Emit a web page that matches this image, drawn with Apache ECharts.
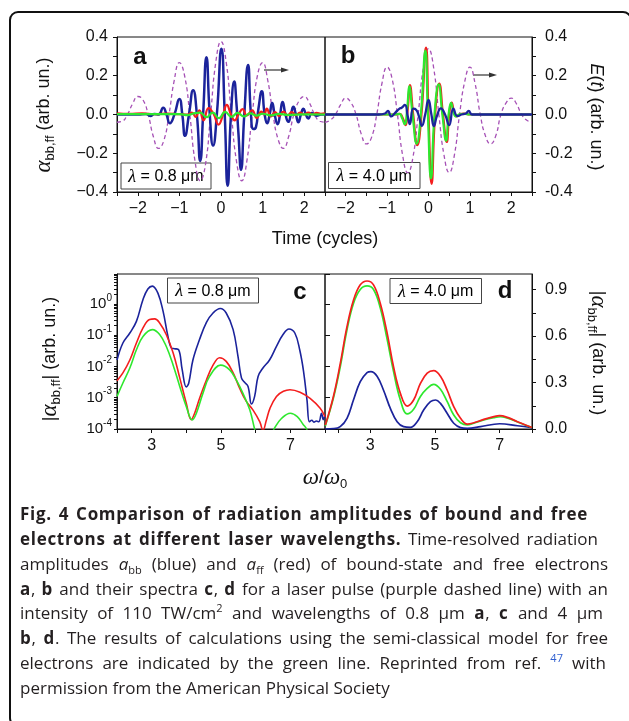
<!DOCTYPE html>
<html><head><meta charset="utf-8">
<script src="https://cdn.jsdelivr.net/npm/echarts/dist/echarts.min.js"></script>
<style>
html,body{margin:0;padding:0;background:#fff;}
#wrap{position:relative;width:629px;height:721px;overflow:hidden;}
#chart{position:absolute;left:0;top:0;width:629px;height:721px;}
#cap{position:absolute;left:20px;top:502px;font-family:'Open Sans','Noto Sans';font-size:17px;line-height:24.86px;color:#231f20;}
#cap div{text-align:justify;text-align-last:justify;white-space:nowrap;}
#cap div.last{text-align:left;text-align-last:left;}
#cap b{font-family:'Open Sans','Noto Sans';font-weight:700;letter-spacing:0.7px;}
#cap sub,#cap sup{font-size:11px;line-height:0;}
</style></head>
<body><div id="wrap"><div id="chart"></div>
<div id="cap">
<div style="width:568px"><b>Fig. 4 Comparison of radiation amplitudes of bound and free</b></div>
<div style="width:578px"><b>electrons at different laser wavelengths.</b> Time-resolved radiation</div>
<div style="width:588px">amplitudes <i>a</i><sub>bb</sub> (blue) and <i>a</i><sub>ff</sub> (red) of bound-state and free electrons</div>
<div style="width:588px"><b>a</b>, <b>b</b> and their spectra <b>c</b>, <b>d</b> for a laser pulse (purple dashed line) with an</div>
<div style="width:583px">intensity of 110 TW/cm<sup>2</sup> and wavelengths of 0.8 μm <b>a</b>, <b>c</b> and 4 μm</div>
<div style="width:588px"><b>b</b>, <b>d</b>. The results of calculations using the semi-classical model for free</div>
<div style="width:586px">electrons are indicated by the green line. Reprinted from ref. <sup style="color:#2f5fd0">47</sup> with</div>
<div class="last">permission from the American Physical Society</div>
</div></div>
<script>
// ---- Panel a/b time axis (cycles) for laser field E(t)
const tField = [-2.5,-2.375,-2.25,-2.125,-2,-1.875,-1.75,-1.625,-1.5,-1.375,-1.25,-1.125,-1,-0.875,-0.75,-0.625,-0.5,-0.375,-0.25,-0.125,0,0.125,0.25,0.375,0.5,0.625,0.75,0.875,1,1.125,1.25,1.375,1.5,1.625,1.75,1.875,2,2.125,2.25,2.375,2.5];
const fieldA = [-0.04,-0.035,0,0.055,0.093,0.075,0,-0.115,-0.175,-0.135,0,0.175,0.268,0.2,0,-0.24,-0.342,-0.26,0,0.27,0.377,0.27,0,-0.245,-0.342,-0.235,0,0.2,0.268,0.175,0,-0.13,-0.175,-0.115,0,0.07,0.093,0.06,0,-0.035,-0.04];
const fieldB = [-0.04,-0.03,0,0.05,0.085,0.062,0,-0.1,-0.152,-0.118,0,0.16,0.245,0.18,0,-0.21,-0.3,-0.22,0,0.24,0.34,0.24,0,-0.21,-0.3,-0.21,0,0.17,0.245,0.16,0,-0.11,-0.152,-0.11,0,0.06,0.085,0.055,0,-0.03,-0.04];

// ---- Panel a (0.8 um): [t, amplitude]
const aBlue = [[-2.5,0],[-2.0,0],[-1.8,0.003],[-1.7,-0.008],[-1.6,0.002],[-1.5,0],[-1.39,0.035],[-1.31,0],[-1.23,-0.045],[-1.12,0],[-1.0,0.08],[-0.93,0],[-0.865,-0.11],[-0.77,0],[-0.67,0.125],[-0.58,0],[-0.5,-0.24],[-0.43,0],[-0.35,0.295],[-0.27,0],[-0.19,-0.16],[-0.1,0],[0.01,0.34],[0.09,0],[0.16,-0.368],[0.24,0],[0.32,0.17],[0.37,0.06],[0.42,-0.1],[0.48,-0.285],[0.56,0],[0.65,0.255],[0.72,0],[0.78,-0.075],[0.84,-0.065],[0.9,0.03],[0.98,0.12],[1.05,0],[1.11,-0.045],[1.17,0],[1.23,0.06],[1.29,0],[1.36,-0.05],[1.42,0],[1.48,0.065],[1.55,0],[1.62,-0.038],[1.68,0],[1.74,0.04],[1.8,0],[1.86,-0.04],[1.92,0],[1.98,0.03],[2.04,0],[2.1,-0.02],[2.18,0.008],[2.3,-0.006],[2.4,0],[2.5,0]];
const aRed = [[-2.5,0.006],[-2.2,0.003],[-1.9,0.006],[-1.6,0.002],[-1.3,0.005],[-1.0,0.002],[-0.8,0],[-0.7,0.01],[-0.61,-0.012],[-0.52,0.022],[-0.42,-0.03],[-0.3,0.033],[-0.18,0.004],[-0.06,-0.052],[0.05,0],[0.14,0.05],[0.24,0],[0.33,-0.03],[0.42,0],[0.52,0.028],[0.62,-0.005],[0.75,0.022],[0.86,-0.018],[0.97,0.015],[1.04,0],[1.1,0.03],[1.2,-0.01],[1.3,0.012],[1.4,-0.008],[1.5,0.015],[1.6,-0.005],[1.7,0.012],[1.8,-0.004],[1.9,0.01],[2.0,0],[2.1,0.01],[2.2,0],[2.3,0.008],[2.4,0.004],[2.5,0.006]];
const aGreen = [[-2.5,0.002],[-1.0,0.002],[-0.8,-0.003],[-0.65,0.006],[-0.5,0.01],[-0.35,-0.014],[-0.2,0.01],[-0.05,-0.019],[0.1,0.014],[0.25,-0.012],[0.4,0.008],[0.55,-0.01],[0.7,0.006],[0.85,-0.006],[1.0,0.004],[1.2,-0.004],[1.4,0.003],[1.6,-0.002],[2.0,0.001],[2.5,0]];

// ---- Panel b (4.0 um): [t, amplitude]
const bBlue = [[-2.5,0],[-1.2,0],[-1.05,0.005],[-0.98,0.018],[-0.9,-0.01],[-0.8,0.01],[-0.7,0.03],[-0.65,0.035],[-0.57,0.05],[-0.5,-0.01],[-0.45,-0.05],[-0.37,0.03],[-0.3,0.025],[-0.23,-0.01],[-0.16,-0.058],[-0.08,0],[0,0.075],[0.07,0],[0.13,-0.06],[0.2,-0.01],[0.3,0.032],[0.4,0],[0.5,-0.055],[0.6,0.03],[0.7,-0.008],[0.8,0],[0.9,0.005],[0.97,0.018],[1.05,0],[1.2,0],[2.5,0]];
const bRed = [[-2.5,0],[-0.8,0],[-0.7,0.003],[-0.62,-0.02],[-0.56,-0.055],[-0.5,0.03],[-0.45,0.152],[-0.37,0],[-0.27,-0.158],[-0.17,0],[-0.06,0.345],[0,0],[0.075,-0.358],[0.16,0],[0.26,0.16],[0.35,0],[0.44,-0.142],[0.5,0],[0.56,0.062],[0.62,0.01],[0.68,-0.01],[0.75,0],[0.85,0.005],[1.0,0],[2.5,0]];
const bGreen = [[-2.5,0],[-0.8,0],[-0.7,0.003],[-0.635,-0.02],[-0.575,-0.05],[-0.515,0.03],[-0.465,0.145],[-0.385,0],[-0.285,-0.15],[-0.185,0],[-0.075,0.33],[-0.015,0],[0.06,-0.33],[0.145,0],[0.245,0.155],[0.335,0],[0.425,-0.135],[0.485,0],[0.545,0.06],[0.605,0.01],[0.665,-0.01],[0.735,0],[0.85,0.004],[1.0,0],[2.5,0]];

// ---- Panel c (0.8 um spectra, log): [omega/omega0, |alpha|]
const cBlue = [[2.0,1.6e-2],[2.17,5.6e-2],[2.37,0.117],[2.56,0.275],[2.75,1.38],[2.89,3.0],[3.02,3.7],[3.18,2.2],[3.33,0.575],[3.47,0.091],[3.57,0.039],[3.66,0.037],[3.78,0.034],[3.88,7.9e-3],[4.0,2.2e-3],[4.07,2.95e-3],[4.19,1.6e-2],[4.38,0.072],[4.58,0.257],[4.77,0.51],[4.98,0.71],[5.15,0.51],[5.35,0.15],[5.49,0.021],[5.59,4.3e-3],[5.68,3.1e-3],[5.78,2.3e-3],[5.88,6.3e-4],[5.97,1.1e-3],[6.07,4.8e-3],[6.21,8.9e-3],[6.4,1.6e-2],[6.6,0.044],[6.79,0.105],[6.96,0.158],[7.13,0.117],[7.27,0.034],[7.38,7.1e-3],[7.48,8.5e-4],[7.55,1.7e-4],[7.62,1.9e-4],[7.68,1.66e-4],[7.75,1.8e-4],[7.82,1.7e-4],[7.9,3.2e-4],[7.95,2e-4],[8.0,2.8e-4]];
const cRed = [[2.0,3.5e-3],[2.17,6.2e-3],[2.37,1.6e-2],[2.56,5.6e-2],[2.75,0.17],[2.94,0.316],[3.09,0.33],[3.23,0.245],[3.42,0.105],[3.62,0.027],[3.81,4.3e-3],[4.0,6.6e-4],[4.14,2.0e-4],[4.24,3.2e-4],[4.38,9.5e-4],[4.58,3.7e-3],[4.77,1.1e-2],[4.96,1.9e-2],[5.15,1.45e-2],[5.35,6.2e-3],[5.54,2.0e-3],[5.73,7.6e-4],[5.92,4.1e-4],[6.12,1.7e-4],[6.21,9e-5],[6.31,1.95e-4],[6.41,4.5e-4],[6.6,1.1e-3],[6.8,1.6e-3],[6.99,1.8e-3],[7.28,1.5e-3],[7.57,9.5e-4],[7.86,4.6e-4],[8.0,2.5e-4]];
const cGreen = [[2.0,1.1e-3],[2.17,2.95e-3],[2.37,8.9e-3],[2.56,0.034],[2.75,0.091],[3.02,0.15],[3.23,0.105],[3.42,0.044],[3.62,0.011],[3.81,2.3e-3],[4.0,5.2e-4],[4.17,1.95e-4],[4.29,3.2e-4],[4.48,1.4e-3],[4.67,4.8e-3],[4.99,1.1e-2],[5.25,7.8e-3],[5.44,3.7e-3],[5.63,1.4e-3],[5.83,4.1e-4],[5.97,1e-4],[6.1,3e-5],[6.4,5e-5],[6.55,1.1e-4],[6.75,2.2e-4],[7.0,3.2e-4],[7.2,2.5e-4],[7.37,1.4e-4],[7.47,1e-4],[7.6,4e-5],[8.0,2.5e-5]];

// ---- Panel d (4.0 um spectra, linear): [omega/omega0, |alpha|]
const dRed = [[1.61,0.026],[1.86,0.21],[2.07,0.42],[2.28,0.66],[2.48,0.83],[2.69,0.93],[2.9,0.955],[3.1,0.93],[3.31,0.81],[3.52,0.62],[3.72,0.4],[3.93,0.23],[4.14,0.148],[4.34,0.187],[4.55,0.294],[4.76,0.36],[4.96,0.376],[5.17,0.34],[5.38,0.25],[5.58,0.144],[5.79,0.069],[6.0,0.032],[6.2,0.04],[6.51,0.062],[6.82,0.08],[7.0,0.086],[7.24,0.075],[7.55,0.047],[7.86,0.021],[8.0,0.01]];
const dGreen = [[1.61,0.02],[1.86,0.2],[2.07,0.4],[2.28,0.64],[2.48,0.81],[2.69,0.9],[2.9,0.923],[3.1,0.9],[3.31,0.78],[3.52,0.58],[3.72,0.37],[3.93,0.187],[4.14,0.097],[4.34,0.127],[4.55,0.21],[4.76,0.262],[4.96,0.288],[5.17,0.256],[5.38,0.176],[5.58,0.09],[5.79,0.04],[6.0,0.026],[6.2,0.037],[6.51,0.058],[6.82,0.073],[7.03,0.079],[7.34,0.064],[7.65,0.037],[8.0,0.01]];
const dBlue = [[1.61,0],[1.86,0.002],[2.07,0.015],[2.28,0.069],[2.48,0.187],[2.69,0.305],[2.9,0.363],[3.02,0.37],[3.21,0.34],[3.41,0.25],[3.62,0.133],[3.83,0.047],[4.03,0.015],[4.24,0.01],[4.45,0.047],[4.65,0.122],[4.86,0.176],[5.02,0.187],[5.17,0.165],[5.38,0.1],[5.58,0.037],[5.79,0.009],[6.0,0.004],[6.41,0.015],[7.0,0.034],[7.55,0.021],[8.0,0.009]];

// ---- tick positions / labels
const dXTicks = [2,3,4,5,6,7,8];
const dXLabels = [3,5,7];
const dYTicks = [0,0.15,0.3,0.45,0.6,0.75,0.9];
const dYLabels = [0,0.3,0.6,0.9];
const cYMinorTicks = [1e-4,2e-4,3e-4,4e-4,5e-4,6e-4,7e-4,8e-4,9e-4,1e-3,2e-3,3e-3,4e-3,5e-3,6e-3,7e-3,8e-3,9e-3,1e-2,2e-2,3e-2,4e-2,5e-2,6e-2,7e-2,8e-2,9e-2,0.1,0.2,0.3,0.4,0.5,0.6,0.7,0.8,0.9,1,2,3,4,5,6,7,8,9];

const BLUE='#1b239b', RED='#f41e1e', GREEN='#2ee82e', PURPLE='#a651b6', INK='#111';
const FONT='"Liberation Sans", Arial, sans-serif';
const pairs = (xs, ys) => xs.map((x,i)=>[x, ys[i]]);

const chart = echarts.init(document.getElementById('chart'), null, {renderer:'canvas'});

const axLine = {show:true, onZero:false, lineStyle:{color:INK, width:1}};
const lbl = {color:INK, fontSize:16, fontFamily:FONT};
const grids = [
  {left:117, top:37, width:208, height:155},
  {left:325, top:37, width:207, height:155},
  {left:117, top:274, width:208, height:155},
  {left:325, top:274, width:207, height:155}
].map(g=>Object.assign(g,{show:true, borderColor:INK, borderWidth:1, backgroundColor:'transparent'}));

const timeX = (gi) => ({type:'value', gridIndex:gi, min:-2.5, max:2.5, interval:0.5,
  axisLine:axLine, splitLine:{show:false},
  axisTick:{show:true, length:4, lineStyle:{color:INK}},
  axisLabel:Object.assign({}, lbl, {margin:9, formatter:v=> Number.isInteger(v) ? (v<0 ? '\u2212'+(-v) : String(v)) : ''})});

const sup = {fontSize:10, fontFamily:FONT, color:INK, lineHeight:10, verticalAlign:'top'};

const option = {
  animation:false,
  backgroundColor:'#fff',
  grid:grids,
  xAxis:[
    timeX(0), timeX(1),
    {type:'value', gridIndex:2, min:2, max:8, interval:1, axisLine:axLine, splitLine:{show:false},
      axisTick:{length:4, lineStyle:{color:INK}},
      axisLabel:Object.assign({}, lbl, {margin:9, formatter:v=> (v%2===1) ? String(v) : ''})},
    {type:'value', gridIndex:3, min:1.6, max:8, axisLine:axLine, splitLine:{show:false},
      axisTick:{length:4, lineStyle:{color:INK}, customValues:dXTicks},
      axisLabel:Object.assign({}, lbl, {margin:9, customValues:dXLabels, formatter:v=>String(v)})}
  ],
  yAxis:[
    {type:'value', gridIndex:0, min:-0.4, max:0.4, interval:0.2, axisLine:axLine, splitLine:{show:false},
      axisTick:{length:4, lineStyle:{color:INK}}, minorTick:{show:true, splitNumber:2, length:4, lineStyle:{color:INK}},
      axisLabel:Object.assign({}, lbl, {margin:9, formatter:v=> v<0 ? '\u2212'+(-v).toFixed(1) : v.toFixed(1)})},
    {type:'value', gridIndex:1, position:'right', min:-0.4, max:0.4, interval:0.2, axisLine:axLine, splitLine:{show:false},
      axisTick:{length:4, lineStyle:{color:INK}}, minorTick:{show:true, splitNumber:2, length:4, lineStyle:{color:INK}},
      axisLabel:Object.assign({}, lbl, {margin:13, formatter:v=> v.toFixed(1)})},
    {type:'log', gridIndex:2, logBase:10, min:1e-4, max:9, axisLine:axLine, splitLine:{show:false},
      axisTick:{length:3, lineStyle:{color:INK}, customValues:cYMinorTicks},
      axisLabel:{margin:5, color:INK, fontFamily:FONT,
        formatter:v=>{const l=Math.log10(v), e=Math.round(l); if(Math.abs(l-e)>1e-6) return ''; return '{b|10}{p|'+e+'}';},
        rich:{b:{fontSize:15, fontFamily:FONT, color:INK, lineHeight:22}, p:sup}}},
    {type:'value', gridIndex:3, position:'right', min:0, max:1.0, axisLine:axLine, splitLine:{show:false},
      axisTick:{length:4, lineStyle:{color:INK}, customValues:dYTicks},
      axisLabel:Object.assign({}, lbl, {margin:13, customValues:dYLabels, formatter:v=>v.toFixed(1)})},
    {type:'log', gridIndex:2, logBase:10, min:1e-4, max:9, axisLine:{show:false, onZero:false}, splitLine:{show:false},
      axisTick:{length:5, lineStyle:{color:INK}}, axisLabel:{show:false}}
  ],
  series:[
    {type:'line', xAxisIndex:0, yAxisIndex:0, data:pairs(tField, fieldA), smooth:0.5, symbol:'none', lineStyle:{color:PURPLE, width:1.3, type:[4,3]}},
    {type:'line', xAxisIndex:0, yAxisIndex:0, data:aBlue, smooth:0.55, symbol:'none', lineStyle:{color:BLUE, width:2.5}},
    {type:'line', xAxisIndex:0, yAxisIndex:0, data:aRed, smooth:0.5, symbol:'none', lineStyle:{color:RED, width:2.2}},
    {type:'line', xAxisIndex:0, yAxisIndex:0, data:aGreen, smooth:0.5, symbol:'none', lineStyle:{color:GREEN, width:2.2}},

    {type:'line', xAxisIndex:1, yAxisIndex:1, data:pairs(tField, fieldB), smooth:0.5, symbol:'none', lineStyle:{color:PURPLE, width:1.3, type:[4,3]}},
    {type:'line', xAxisIndex:1, yAxisIndex:1, data:bRed, smooth:0.5, symbol:'none', lineStyle:{color:RED, width:2.2}},
    {type:'line', xAxisIndex:1, yAxisIndex:1, data:bGreen, smooth:0.5, symbol:'none', lineStyle:{color:GREEN, width:2.2}},
    {type:'line', xAxisIndex:1, yAxisIndex:1, data:bBlue, smooth:0.5, symbol:'none', lineStyle:{color:BLUE, width:2.3}},

    {type:'line', xAxisIndex:2, yAxisIndex:2, data:cBlue, smooth:0.4, symbol:'none', lineStyle:{color:BLUE, width:1.6}},
    {type:'line', xAxisIndex:2, yAxisIndex:2, data:cRed, smooth:0.4, symbol:'none', lineStyle:{color:RED, width:1.6}},
    {type:'line', xAxisIndex:2, yAxisIndex:2, data:cGreen, smooth:0.4, symbol:'none', lineStyle:{color:GREEN, width:1.6}},

    {type:'line', xAxisIndex:3, yAxisIndex:3, data:dBlue, smooth:0.4, symbol:'none', lineStyle:{color:BLUE, width:1.7}},
    {type:'line', xAxisIndex:3, yAxisIndex:3, data:dGreen, smooth:0.4, symbol:'none', lineStyle:{color:GREEN, width:1.7}},
    {type:'line', xAxisIndex:3, yAxisIndex:3, data:dRed, smooth:0.4, symbol:'none', lineStyle:{color:RED, width:1.7}}
  ],
  graphic:[]
};

// ---- annotations
const serif = '"Liberation Serif", "DejaVu Serif", serif';
function txt(x, y, text, rich, opts){
  return Object.assign({type:'text', x:x, y:y, z:100, silent:true,
    style:{text:text, fill:INK, font:'18px '+FONT, align:'center', verticalAlign:'middle', rich:rich||{}}}, opts||{});
}
const yRich = {
  g:{fontFamily:serif, fontStyle:'italic', fontSize:23, lineHeight:26, color:INK},
  s:{fontFamily:FONT, fontSize:13, lineHeight:13, verticalAlign:'bottom', color:INK},
  n:{fontFamily:FONT, fontSize:18, lineHeight:26, color:INK},
  i:{fontFamily:FONT, fontStyle:'italic', fontSize:18, lineHeight:26, color:INK}
};
function box(x, y, w, h, label){
  return {type:'group', z:90, silent:true, children:[
    {type:'rect', shape:{x:x, y:y, width:w, height:h}, style:{fill:'#fff', stroke:'#444', lineWidth:1}},
    {type:'text', x:x+w/2, y:y+h/2+1, style:{text:'{l|\u03bb}{n| = '+label+' \u03bcm}', align:'center', verticalAlign:'middle',
      rich:{l:{fontFamily:serif, fontStyle:'italic', fontSize:18, color:INK}, n:{fontFamily:FONT, fontSize:16, color:INK}}}}
  ]};
}
function arrow(x1, x2, y){
  return {type:'group', z:90, silent:true, children:[
    {type:'line', shape:{x1:x1, y1:y, x2:x2-6, y2:y}, style:{stroke:'#333', lineWidth:1.2}},
    {type:'polygon', shape:{points:[[x2-8,y-2.6],[x2,y],[x2-8,y+2.6]]}, style:{fill:'#333'}}
  ]};
}
option.graphic = [
  {type:'rect', z:0, silent:true, shape:{x:10, y:12, width:621, height:714, r:8}, style:{fill:'none', stroke:'#111', lineWidth:2}},
  txt(140, 57, 'a', null, {style:{text:'a', font:'bold 24px '+FONT, fill:INK, align:'center', verticalAlign:'middle'}}),
  txt(348, 56, 'b', null, {style:{text:'b', font:'bold 24px '+FONT, fill:INK, align:'center', verticalAlign:'middle'}}),
  txt(300, 292, 'c', null, {style:{text:'c', font:'bold 24px '+FONT, fill:INK, align:'center', verticalAlign:'middle'}}),
  txt(505, 291, 'd', null, {style:{text:'d', font:'bold 24px '+FONT, fill:INK, align:'center', verticalAlign:'middle'}}),
  box(121, 163, 90, 26, '0.8'),
  box(328.5, 162.5, 91.5, 26, '4.0'),
  box(167.5, 278, 91, 25, '0.8'),
  box(390, 278.5, 91.5, 25, '4.0'),
  arrow(264, 289, 70),
  arrow(473, 497, 75),
  txt(44, 115, '{g|\u03b1}{s|bb,ff}{n| (arb. un.)}', yRich, {rotation:Math.PI/2}),
  txt(596, 117, '{i|E}{n|(}{i|t}{n|) (arb. un.)}', yRich, {rotation:-Math.PI/2}),
  txt(325, 239, 'Time (cycles)', null, {style:{text:'Time (cycles)', font:'18px '+FONT, fill:INK, align:'center', verticalAlign:'middle'}}),
  txt(50, 359, '{n||}{g|\u03b1}{s|bb,ff}{n|| (arb. un.)}', yRich, {rotation:Math.PI/2}),
  txt(598, 353, '{n||}{g|\u03b1}{s|bb,ff}{n|| (arb. un.)}', yRich, {rotation:-Math.PI/2}),
  txt(325, 478, '{g|\u03c9}{n|/}{g|\u03c9}{s|0}', yRich)
];

chart.setOption(option);
</script>
</body></html>
